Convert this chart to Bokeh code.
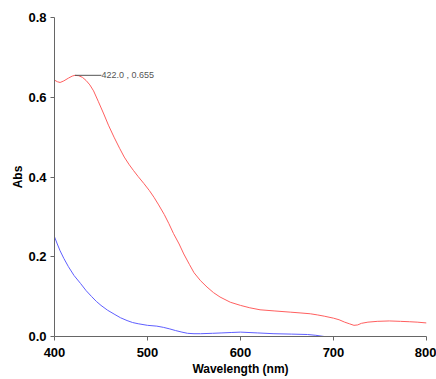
from bokeh.plotting import figure
from bokeh.models import Range1d, FixedTicker, NumeralTickFormatter
from bokeh.core.properties import value
from bokeh.embed import file_html
from bokeh.resources import INLINE

red_x = [400, 403, 406, 410, 415, 419, 422, 426, 430, 434, 438, 442, 447, 453, 458, 464, 470, 475,
         480, 485, 490, 496, 502, 507, 512, 518, 523, 528, 534, 539, 545, 550, 557, 564, 571, 578,
         589, 600, 610, 621, 637, 654, 665, 675, 683, 690, 700, 706, 712, 717, 722, 726, 730, 737,
         747, 760, 772, 782, 790, 800]
red_y = [0.643, 0.639, 0.637, 0.641, 0.648, 0.653, 0.655, 0.654, 0.650, 0.642, 0.631, 0.616,
         0.590, 0.558, 0.530, 0.500, 0.472, 0.450, 0.432, 0.416, 0.401, 0.384, 0.366, 0.349,
         0.330, 0.306, 0.283, 0.258, 0.232, 0.207, 0.181, 0.160, 0.140, 0.124, 0.110, 0.099,
         0.086, 0.078, 0.072, 0.067, 0.064, 0.061, 0.059, 0.057, 0.054, 0.051, 0.046, 0.042,
         0.036, 0.032, 0.028, 0.029, 0.033, 0.036, 0.038, 0.039, 0.038, 0.037, 0.036, 0.034]

blue_x = [400, 403, 406, 410, 415, 421, 428, 434, 440, 445, 450, 457, 465, 471, 478, 484, 490,
          500, 510, 517, 524, 530, 537, 543, 550, 557, 570, 580, 590, 600, 618, 636, 655, 672,
          681, 690]
blue_y = [0.250, 0.232, 0.215, 0.196, 0.175, 0.153, 0.133, 0.115, 0.100, 0.088, 0.078, 0.066,
          0.055, 0.047, 0.040, 0.035, 0.032, 0.028, 0.026, 0.023, 0.019, 0.015, 0.011, 0.008,
          0.007, 0.007, 0.008, 0.009, 0.010, 0.011, 0.009, 0.007, 0.006, 0.005, 0.003, 0.0]

peak_x = [422.0]
peak_y = [0.655]
peak_label = ["422.0 , 0.655"]
x_ticks = [400, 500, 600, 700, 800]
y_ticks = [0.0, 0.2, 0.4, 0.6, 0.8]

FONT = "Liberation Sans"

p = figure(width=436, height=379, output_backend="svg", toolbar_location=None,
           x_range=Range1d(400, 800), y_range=Range1d(0, 0.8),
           min_border_left=54, min_border_right=10, min_border_top=17, min_border_bottom=43)
p.outline_line_color = None
p.grid.visible = False
p.background_fill_color = "white"
p.border_fill_color = "white"

p.line(red_x, red_y, line_color="#ff5f5f", line_width=1)
p.line(blue_x, blue_y, line_color="#5f5fff", line_width=1)

# annotation leader and label
p.segment(x0=peak_x, y0=peak_y, x1=[450.5], y1=peak_y, line_color="#555555", line_width=1)
p.text(x=[450.5], y=peak_y, text=peak_label, text_font=value(FONT), text_font_size="9px",
       text_color="#555555", text_baseline="middle", text_align="left")

for ax in (p.xaxis[0], p.yaxis[0]):
    ax.axis_line_color = "#666666"
    ax.major_tick_line_color = "#666666"
    ax.major_tick_out = 4
    ax.major_tick_in = 0
    ax.minor_tick_line_color = None
    ax.major_label_text_font = FONT
    ax.major_label_text_font_style = "bold"
    ax.major_label_text_font_size = "13px"
    ax.major_label_text_color = "black"
    ax.axis_label_text_font = FONT
    ax.axis_label_text_font_style = "bold"
    ax.axis_label_text_font_size = "12px"
    ax.axis_label_text_color = "black"

p.xaxis.ticker = FixedTicker(ticks=x_ticks)
p.yaxis.ticker = FixedTicker(ticks=y_ticks)
p.yaxis.formatter = NumeralTickFormatter(format="0.0")
p.xaxis.axis_label = "Wavelength (nm)"
p.yaxis.axis_label = "Abs"
p.xaxis.major_label_standoff = 7
p.yaxis.major_label_standoff = 4
p.xaxis.axis_label_standoff = 2
p.yaxis.axis_label_standoff = 0

open("out.html", "w").write(file_html(p, INLINE))
